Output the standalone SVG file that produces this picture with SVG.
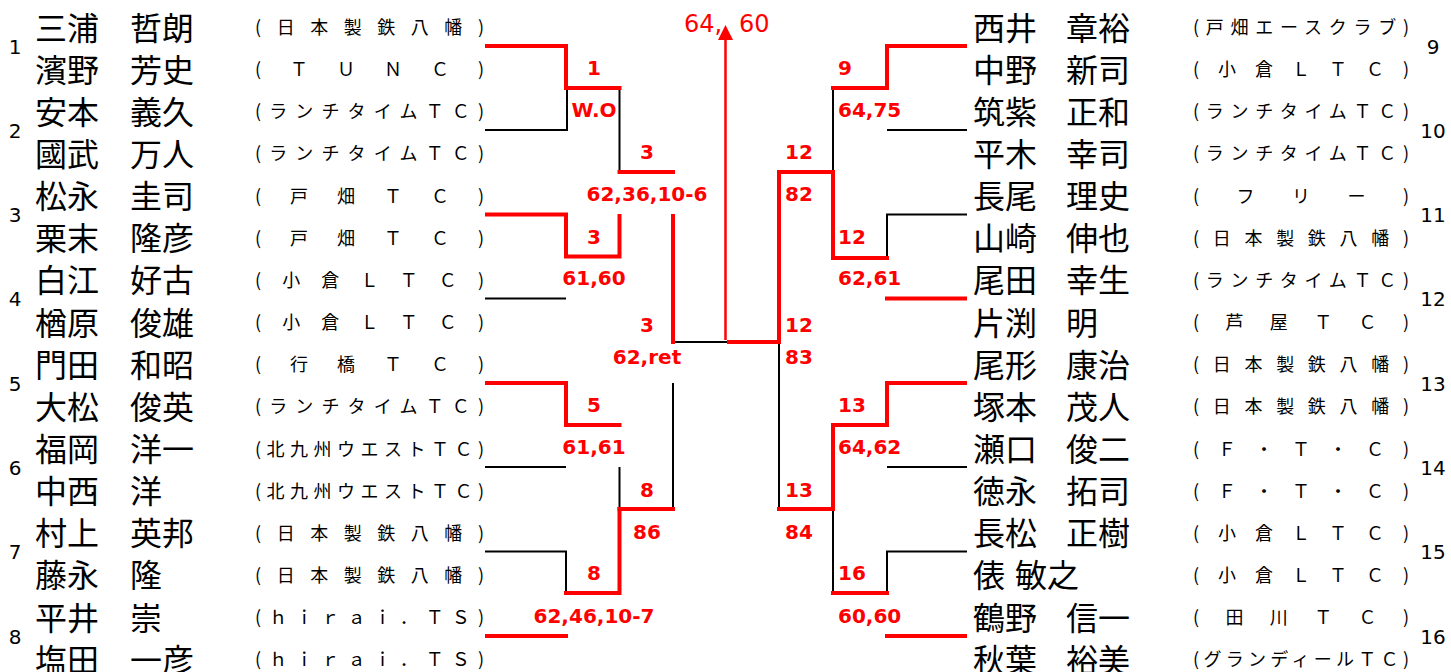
<svg xmlns="http://www.w3.org/2000/svg" width="1451" height="672" viewBox="0 0 1451 672">
<style>
.nm{font-family:"Noto Sans CJK JP","Noto Sans CJK SC",sans-serif;font-size:32px;fill:#000}
.cl{font-family:"Noto Sans CJK JP","Noto Sans CJK SC",sans-serif;font-size:18px;fill:#000}
.no{font-family:"DejaVu Sans",Verdana,sans-serif;font-size:20px;fill:#000;text-anchor:middle}
.sc{font-family:"DejaVu Sans",Verdana,sans-serif;font-size:20px;font-weight:bold;fill:#ff0000}
.m{text-anchor:middle}
.red{fill:none;stroke:#ff0000;stroke-width:4;stroke-linecap:square;stroke-linejoin:miter}
.blk{fill:none;stroke:#000;stroke-width:2;stroke-linecap:butt}
</style>
<rect width="1451" height="672" fill="#fff"/>

<g id="connectors">
  <g class="blk">
    <path d="M485,130 H567 V88"/>
    <path d="M619.5,88 V172"/>
    <path d="M485,298.5 H566"/>
    <path d="M485,467 H566"/>
    <path d="M619.5,467 V509"/>
    <path d="M673,383 V509"/>
    <path d="M673,342 H727"/>
    <path d="M485,551.5 H566 V593"/>
    <path d="M833,88 V172"/>
    <path d="M887,130 H967"/>
    <path d="M967,214.5 H887 V258"/>
    <path d="M779,342 V509"/>
    <path d="M887,467 H967"/>
    <path d="M833,509 V593"/>
    <path d="M967,551.5 H887 V593"/>
  </g>
  <g class="red">
    <path d="M487,46 H566 V88 H619.5"/>
    <path d="M619.5,172 H673"/>
    <path d="M487,214.5 H566 V256.5 H619.5 V216"/>
    <path d="M673,216 V342"/>
    <path d="M487,383 H566 V425 H619.5"/>
    <path d="M619.5,509 H673"/>
    <path d="M619.5,509 V593 H566"/>
    <path d="M487,636 H566"/>
    <path d="M729,342 H779 V172 H833 V258 H887"/>
    <path d="M887,298.5 H965"/>
    <path d="M965,46 H887 V88 H833"/>
    <path d="M965,383 H887 V425 H833 V509 H779"/>
    <path d="M887,593 H833"/>
    <path d="M887,636 H965"/>
  </g>
  <g id="final-arrow">
    <line x1="725.5" y1="340" x2="725.5" y2="38" stroke="#ff0000" stroke-width="2.5"/>
  </g>
</g>

<g id="champion-score">
  <text x="684" y="32" font-family="DejaVu Sans, Verdana, sans-serif" font-size="24" fill="#ff0000">64, <tspan x="739">60</tspan></text>
  <polygon points="725.5,25 733,40 718,40" fill="#ff0000"/>
</g>

<g id="scores">
  <text class="sc m" x="594" y="75">1</text>
  <text class="sc m" x="594" y="117">W.O</text>
  <text class="sc m" x="594" y="244">3</text>
  <text class="sc m" x="594" y="285">61,60</text>
  <text class="sc m" x="594" y="412">5</text>
  <text class="sc m" x="594" y="454">61,61</text>
  <text class="sc m" x="594" y="580">8</text>
  <text class="sc m" x="594" y="623">62,46,10-7</text>
  <text class="sc m" x="647" y="159">3</text>
  <text class="sc m" x="647" y="201">62,36,10-6</text>
  <text class="sc m" x="647" y="332">3</text>
  <text class="sc m" x="647" y="364">62,ret</text>
  <text class="sc m" x="647" y="497">8</text>
  <text class="sc m" x="647" y="539">86</text>
  <text class="sc" x="838" y="75">9</text>
  <text class="sc" x="838" y="117">64,75</text>
  <text class="sc" x="838" y="244">12</text>
  <text class="sc" x="838" y="285">62,61</text>
  <text class="sc" x="838" y="412">13</text>
  <text class="sc" x="838" y="454">64,62</text>
  <text class="sc" x="838" y="580">16</text>
  <text class="sc" x="838" y="623">60,60</text>
  <text class="sc" x="785" y="159">12</text>
  <text class="sc" x="785" y="201">82</text>
  <text class="sc" x="785" y="332">12</text>
  <text class="sc" x="785" y="364">83</text>
  <text class="sc" x="785" y="497">13</text>
  <text class="sc" x="785" y="539">84</text>
</g>

<g id="pair-numbers">
  <text class="no" x="15" y="54">1</text>
  <text class="no" x="15" y="138">2</text>
  <text class="no" x="15" y="222">3</text>
  <text class="no" x="15" y="306">4</text>
  <text class="no" x="15" y="391">5</text>
  <text class="no" x="15" y="475">6</text>
  <text class="no" x="15" y="559">7</text>
  <text class="no" x="15" y="644">8</text>
  <text class="no" x="1433" y="54">9</text>
  <text class="no" x="1433" y="138">10</text>
  <text class="no" x="1433" y="222">11</text>
  <text class="no" x="1433" y="306">12</text>
  <text class="no" x="1433" y="391">13</text>
  <text class="no" x="1433" y="475">14</text>
  <text class="no" x="1433" y="559">15</text>
  <text class="no" x="1433" y="644">16</text>
</g>

<g id="pair-1"><text class="nm" x="35" y="39.5">三浦</text><text class="nm" x="130" y="39.5">哲朗</text><text class="cl" x="255" y="34" textLength="229" lengthAdjust="spacing">(日本製鉄八幡)</text>
<text class="nm" x="35" y="81.6">濱野</text><text class="nm" x="130" y="81.6">芳史</text><text class="cl" x="255" y="76.1" textLength="229" lengthAdjust="spacing">(ＴＵＮＣ)</text></g>
<g id="pair-2"><text class="nm" x="35" y="123.8">安本</text><text class="nm" x="130" y="123.8">義久</text><text class="cl" x="255" y="118.3" textLength="229" lengthAdjust="spacing">(ランチタイムＴＣ)</text>
<text class="nm" x="35" y="165.9">國武</text><text class="nm" x="130" y="165.9">万人</text><text class="cl" x="255" y="160.4" textLength="229" lengthAdjust="spacing">(ランチタイムＴＣ)</text></g>
<g id="pair-3"><text class="nm" x="35" y="208.1">松永</text><text class="nm" x="130" y="208.1">圭司</text><text class="cl" x="255" y="202.6" textLength="229" lengthAdjust="spacing">(戸畑ＴＣ)</text>
<text class="nm" x="35" y="250.2">栗末</text><text class="nm" x="130" y="250.2">隆彦</text><text class="cl" x="255" y="244.7" textLength="229" lengthAdjust="spacing">(戸畑ＴＣ)</text></g>
<g id="pair-4"><text class="nm" x="35" y="292.4">白江</text><text class="nm" x="130" y="292.4">好古</text><text class="cl" x="255" y="286.9" textLength="229" lengthAdjust="spacing">(小倉ＬＴＣ)</text>
<text class="nm" x="35" y="334.5">楢原</text><text class="nm" x="130" y="334.5">俊雄</text><text class="cl" x="255" y="329" textLength="229" lengthAdjust="spacing">(小倉ＬＴＣ)</text></g>
<g id="pair-5"><text class="nm" x="35" y="376.7">門田</text><text class="nm" x="130" y="376.7">和昭</text><text class="cl" x="255" y="371.2" textLength="229" lengthAdjust="spacing">(行橋ＴＣ)</text>
<text class="nm" x="35" y="418.8">大松</text><text class="nm" x="130" y="418.8">俊英</text><text class="cl" x="255" y="413.3" textLength="229" lengthAdjust="spacing">(ランチタイムＴＣ)</text></g>
<g id="pair-6"><text class="nm" x="35" y="461">福岡</text><text class="nm" x="130" y="461">洋一</text><text class="cl" x="255" y="455.5" textLength="229" lengthAdjust="spacing">(北九州ウエストＴＣ)</text>
<text class="nm" x="35" y="503.1">中西</text><text class="nm" x="130" y="503.1">洋</text><text class="cl" x="255" y="497.6" textLength="229" lengthAdjust="spacing">(北九州ウエストＴＣ)</text></g>
<g id="pair-7"><text class="nm" x="35" y="545.3">村上</text><text class="nm" x="130" y="545.3">英邦</text><text class="cl" x="255" y="539.8" textLength="229" lengthAdjust="spacing">(日本製鉄八幡)</text>
<text class="nm" x="35" y="587.4">藤永</text><text class="nm" x="130" y="587.4">隆</text><text class="cl" x="255" y="581.9" textLength="229" lengthAdjust="spacing">(日本製鉄八幡)</text></g>
<g id="pair-8"><text class="nm" x="35" y="629.6">平井</text><text class="nm" x="130" y="629.6">崇</text><text class="cl" x="255" y="624.1" textLength="229" lengthAdjust="spacing">(ｈｉｒａｉ．ＴＳ)</text>
<text class="nm" x="35" y="671.7">塩田</text><text class="nm" x="130" y="671.7">一彦</text><text class="cl" x="255" y="666.2" textLength="229" lengthAdjust="spacing">(ｈｉｒａｉ．ＴＳ)</text></g>

<g id="pair-9"><text class="nm" x="973" y="39.5">西井</text><text class="nm" x="1066" y="39.5">章裕</text><text class="cl" x="1193" y="34" textLength="216" lengthAdjust="spacing">(戸畑エースクラブ)</text>
<text class="nm" x="973" y="81.6">中野</text><text class="nm" x="1066" y="81.6">新司</text><text class="cl" x="1193" y="76.1" textLength="216" lengthAdjust="spacing">(小倉ＬＴＣ)</text></g>
<g id="pair-10"><text class="nm" x="973" y="123.8">筑紫</text><text class="nm" x="1066" y="123.8">正和</text><text class="cl" x="1193" y="118.3" textLength="216" lengthAdjust="spacing">(ランチタイムＴＣ)</text>
<text class="nm" x="973" y="165.9">平木</text><text class="nm" x="1066" y="165.9">幸司</text><text class="cl" x="1193" y="160.4" textLength="216" lengthAdjust="spacing">(ランチタイムＴＣ)</text></g>
<g id="pair-11"><text class="nm" x="973" y="208.1">長尾</text><text class="nm" x="1066" y="208.1">理史</text><text class="cl" x="1193" y="202.6" textLength="216" lengthAdjust="spacing">(フリー)</text>
<text class="nm" x="973" y="250.2">山崎</text><text class="nm" x="1066" y="250.2">伸也</text><text class="cl" x="1193" y="244.7" textLength="216" lengthAdjust="spacing">(日本製鉄八幡)</text></g>
<g id="pair-12"><text class="nm" x="973" y="292.4">尾田</text><text class="nm" x="1066" y="292.4">幸生</text><text class="cl" x="1193" y="286.9" textLength="216" lengthAdjust="spacing">(ランチタイムＴＣ)</text>
<text class="nm" x="973" y="334.5">片渕</text><text class="nm" x="1066" y="334.5">明</text><text class="cl" x="1193" y="329" textLength="216" lengthAdjust="spacing">(芦屋ＴＣ)</text></g>
<g id="pair-13"><text class="nm" x="973" y="376.7">尾形</text><text class="nm" x="1066" y="376.7">康治</text><text class="cl" x="1193" y="371.2" textLength="216" lengthAdjust="spacing">(日本製鉄八幡)</text>
<text class="nm" x="973" y="418.8">塚本</text><text class="nm" x="1066" y="418.8">茂人</text><text class="cl" x="1193" y="413.3" textLength="216" lengthAdjust="spacing">(日本製鉄八幡)</text></g>
<g id="pair-14"><text class="nm" x="973" y="461">瀬口</text><text class="nm" x="1066" y="461">俊二</text><text class="cl" x="1193" y="455.5" textLength="216" lengthAdjust="spacing">(Ｆ・Ｔ・Ｃ)</text>
<text class="nm" x="973" y="503.1">徳永</text><text class="nm" x="1066" y="503.1">拓司</text><text class="cl" x="1193" y="497.6" textLength="216" lengthAdjust="spacing">(Ｆ・Ｔ・Ｃ)</text></g>
<g id="pair-15"><text class="nm" x="973" y="545.3">長松</text><text class="nm" x="1066" y="545.3">正樹</text><text class="cl" x="1193" y="539.8" textLength="216" lengthAdjust="spacing">(小倉ＬＴＣ)</text>
<text class="nm" x="973" y="587.4">俵</text><text class="nm" x="1015" y="587.4">敏之</text><text class="cl" x="1193" y="581.9" textLength="216" lengthAdjust="spacing">(小倉ＬＴＣ)</text></g>
<g id="pair-16"><text class="nm" x="973" y="629.6">鶴野</text><text class="nm" x="1066" y="629.6">信一</text><text class="cl" x="1193" y="624.1" textLength="216" lengthAdjust="spacing">(田川ＴＣ)</text>
<text class="nm" x="973" y="671.7">秋葉</text><text class="nm" x="1066" y="671.7">裕美</text><text class="cl" x="1193" y="666.2" textLength="216" lengthAdjust="spacing">(グランディールＴＣ)</text></g>
</svg>
